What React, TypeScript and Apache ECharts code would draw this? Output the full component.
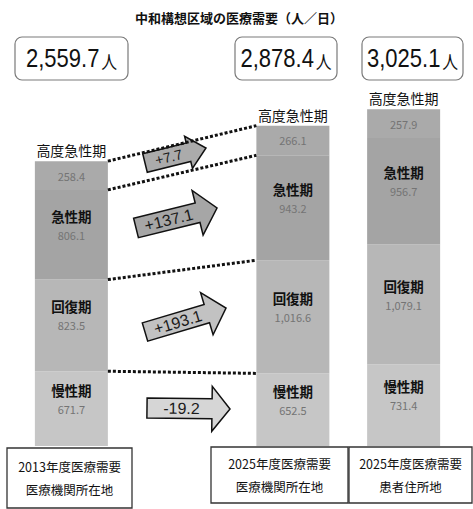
import React, { useEffect, useRef } from 'react';
import * as echarts from 'echarts';

const title = '中和構想区域の医療需要（人／日）';
const unit = '人';
const categories = ['2013年度医療需要\n医療機関所在地', '', '2025年度医療需要\n医療機関所在地', '2025年度医療需要\n患者住所地'];
const phaseNames = ['慢性期', '回復期', '急性期', '高度急性期'];
const chronic = [671.7, null, 652.5, 731.4];
const recovery = [823.5, null, 1016.6, 1079.1];
const acute = [806.1, null, 943.2, 956.7];
const highAcute = [258.4, null, 266.1, 257.9];

const FONT = "'Noto Sans CJK JP', sans-serif";
const NUMFONT = "'Liberation Sans', Arial, sans-serif";

const fmt = (v: number) =>
  v.toLocaleString('en-US', { minimumFractionDigits: 1, maximumFractionDigits: 1 });
const signed = (v: number) => (v >= 0 ? '+' : '') + fmt(Math.round(v * 10) / 10);

export default function App() {
  const ref = useRef<HTMLDivElement>(null);
  useEffect(() => {
    if (!ref.current) return;
    const chart = echarts.init(ref.current, null, { renderer: 'svg' });
    const stacks = [chronic, recovery, acute, highAcute];
    const totals = [0, 1, 2, 3].map((i) =>
      stacks.reduce((s, a) => s + ((a[i] as number) || 0), 0)
    );
    const colors = ['#c6c6c6', '#b7b7b7', '#a4a4a4', '#aaaaaa'];

    const gridLeft = 16, gridRight = 14, W = 473;
    const band = (W - gridLeft - gridRight) / categories.length;
    const barWidth = 73;
    const edge = barWidth / band / 2;

    const barSeries: any[] = stacks.map((arr, k) => ({
      type: 'bar',
      name: phaseNames[k],
      stack: 'total',
      barWidth,
      data: arr.map((v) => (v == null ? '-' : v)),
      itemStyle: { color: colors[k] },
      label: {
        show: true,
        position: 'inside',
        offset: k === 3 ? [0, 0] : [0, -11],
        formatter: (p: any) =>
          typeof p.value !== 'number'
            ? ''
            : k === 3
            ? `{v|${fmt(p.value)}}`
            : `{n|${phaseNames[k]}}\n{v|${fmt(p.value)}}`,
        rich: {
          n: { fontFamily: FONT, fontSize: 13.5, fontWeight: 'bold', color: '#111', lineHeight: 22 },
          v: { fontFamily: FONT, fontSize: 11, color: '#747474', lineHeight: 16 },
        },
      },
    }));
    barSeries.push({
      type: 'bar',
      name: 'top-label',
      stack: 'total',
      barWidth,
      data: totals.map((t, i) => (highAcute[i] == null ? '-' : 0)),
      itemStyle: { color: 'transparent' },
      label: {
        show: true,
        position: 'top',
        distance: 4,
        formatter: (p: any) => (typeof p.value === 'number' ? phaseNames[3] : ''),
        fontFamily: FONT,
        fontSize: 14,
        color: '#111',
      },
    });

    // Dotted connector lines between bar 1 and bar 2 boundaries
    const bound = (i: number) => [
      totals[i],
      totals[i] - (highAcute[i] as number),
      (chronic[i] as number) + (recovery[i] as number),
      chronic[i] as number,
    ];
    const b1 = bound(0), b2 = bound(2);
    const lineSeries = b1.map((v, j) => ({
      type: 'line',
      xAxisIndex: 1,
      yAxisIndex: 0,
      symbol: 'none',
      silent: true,
      z: 5,
      lineStyle: { color: '#111', width: 3, type: [3, 2] },
      data: [
        [edge, v],
        [2 - edge, b2[j]],
      ],
    }));

    // Arrows with differences
    const diffs = [highAcute, acute, recovery, chronic].map(
      (a) => (a[2] as number) - (a[0] as number)
    );
    const arrowGeo = [
      { x: 145, y: 163, tx: 206, ty: 148, bh: 19, hh: 33, hl: 18, fs: 14, fill: '#ababab' },
      { x: 136, y: 228, tx: 217, ty: 208, bh: 20, hh: 46, hl: 20, fs: 16, fill: '#a6a6a6' },
      { x: 145, y: 332, tx: 226, ty: 308, bh: 19, hh: 44, hl: 20, fs: 16, fill: '#c2c2c2' },
      { x: 147, y: 408, tx: 230, ty: 409, bh: 20, hh: 45, hl: 18, fs: 16, fill: '#d6d6d6' },
    ];
    const arrows = arrowGeo.map((g, i) => {
      const dx = g.tx - g.x, dy = g.ty - g.y;
      const L = Math.sqrt(dx * dx + dy * dy);
      const rot = Math.atan2(-dy, dx);
      const b = L - g.hl;
      return {
        type: 'group',
        x: g.x,
        y: g.y,
        rotation: rot,
        z: 100,
        children: [
          {
            type: 'polygon',
            shape: {
              points: [
                [0, -g.bh / 2], [b, -g.bh / 2], [b, -g.hh / 2], [L, 0],
                [b, g.hh / 2], [b, g.bh / 2], [0, g.bh / 2],
              ],
            },
            style: { fill: g.fill, stroke: '#111', lineWidth: 1.5 },
          },
          {
            type: 'text',
            x: b / 2 + 2,
            y: 0,
            style: {
              text: signed(diffs[i]),
              fontFamily: NUMFONT,
              fontSize: g.fs,
              fill: '#1a1a1a',
              align: 'center',
              verticalAlign: 'middle',
            },
          },
        ],
      };
    });

    // Total boxes at top
    const topBoxes = [
      { x: 15, w: 113, i: 0 },
      { x: 235, w: 102, i: 2 },
      { x: 362, w: 101, i: 3 },
    ].map((b) => ({
      type: 'group',
      children: [
        {
          type: 'rect',
          shape: { x: b.x, y: 37, width: b.w, height: 43, r: 7 },
          style: { fill: '#fff', stroke: '#7a7a7a', lineWidth: 1.2 },
        },
        {
          type: 'text',
          x: b.x + b.w / 2,
          y: 59,
          scaleX: 0.88,
          style: {
            text: `{n|${fmt(totals[b.i])}}{u|${unit}}`,
            align: 'center',
            verticalAlign: 'middle',
            rich: {
              n: { fontFamily: NUMFONT, fontSize: 25, fill: '#111' },
              u: { fontFamily: FONT, fontSize: 18, fill: '#111', padding: [4, 0, 0, 2] },
            },
          },
        },
      ],
    }));

    // Category boxes at bottom
    const bottomBoxes = [
      { x: 7, y: 448, w: 125, h: 60, i: 0 },
      { x: 211, y: 447, w: 137, h: 56, i: 2 },
      { x: 349, y: 447, w: 123, h: 56, i: 3 },
    ].map((b) => ({
      type: 'group',
      children: [
        {
          type: 'rect',
          shape: { x: b.x, y: b.y, width: b.w, height: b.h },
          style: { fill: '#fff', stroke: '#333', lineWidth: 1.3 },
        },
        {
          type: 'text',
          x: b.x + b.w / 2,
          y: b.y + b.h / 2,
          style: {
            text: categories[b.i],
            fontFamily: FONT,
            fontSize: 12.5,
            lineHeight: 23,
            fill: '#111',
            align: 'center',
            verticalAlign: 'middle',
          },
        },
      ],
    }));

    chart.setOption({
      animation: false,
      backgroundColor: '#fff',
      grid: { left: gridLeft, right: gridRight, top: 101, bottom: 63 },
      xAxis: [
        { type: 'category', data: categories, show: false },
        { type: 'value', min: -0.5, max: categories.length - 0.5, show: false },
      ],
      yAxis: { type: 'value', min: 0, max: 3100, show: false },
      series: [...barSeries, ...lineSeries],
      graphic: [
        {
          type: 'text',
          x: 239,
          y: 17,
          style: {
            text: title,
            fontFamily: FONT,
            fontSize: 13,
            fontWeight: 'bold',
            fill: '#111',
            align: 'center',
            verticalAlign: 'middle',
          },
        },
        ...topBoxes,
        ...bottomBoxes,
        ...arrows,
      ],
    });
    return () => chart.dispose();
  }, []);
  return (
    <div
      ref={ref}
      style={{ position: 'absolute', left: 0, top: 0, width: 473, height: 509, background: '#fff' }}
    />
  );
}
